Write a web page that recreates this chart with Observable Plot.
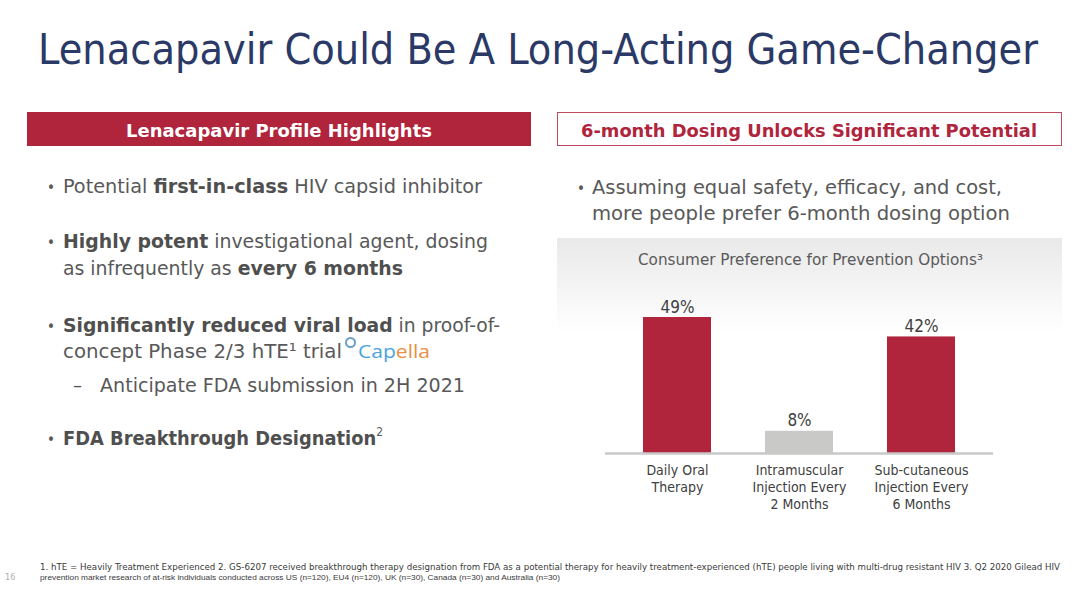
<!DOCTYPE html>
<html>
<head>
<meta charset="utf-8">
<script src="https://cdn.jsdelivr.net/npm/d3@7"></script>
<script src="https://cdn.jsdelivr.net/npm/@observablehq/plot@0.6"></script>
<style>
  html, body { margin: 0; padding: 0; background: #fff; }
  body { width: 1080px; height: 591px; position: relative; overflow: hidden;
         font-family: "DejaVu Sans Condensed", "DejaVu Sans", sans-serif; color: #595959; }
  .t { position: absolute; white-space: nowrap; line-height: 1; transform-origin: 0 0; }
  .title { font-size: 43px; color: #2b3966; }
  .hdr { font-size: 18px; font-weight: bold; }
  .body { font-size: 20px; }
  .body b { color: #4f4f4f; }
  .bul { font-size: 15px; }
  .box { position: absolute; box-sizing: border-box; }
  #chart { position: absolute; left: 557px; top: 238px; }
  .foot { font-size: 9px; color: #3a3a3a; }
  sup.s { font-size: 12px; vertical-align: 0; position: relative; top: -9px; }
</style>
</head>
<body>
<div class="t title" data-x="38" data-b="64" data-w="1000">Lenacapavir Could Be A Long-Acting Game-Changer</div>

<div class="box" style="left:27px;top:112px;width:504px;height:34px;background:#b0243c;"></div>
<div class="t hdr" style="color:#fff" data-c="279" data-b="137" data-w="306">Lenacapavir Profile Highlights</div>
<div class="box" style="left:557px;top:112px;width:505px;height:34px;border:1px solid #bf4a60;background:#fff;"></div>
<div class="t hdr" style="color:#b0243c" data-c="809" data-b="137" data-w="456">6-month Dosing Unlocks Significant Potential</div>

<div class="t bul" data-x="47" data-b="194">•</div>
<div class="t body" data-x="63" data-b="193" data-w="419">Potential <b>first-in-class</b> HIV capsid inhibitor</div>
<div class="t bul" data-x="47" data-b="249">•</div>
<div class="t body" data-x="63" data-b="248" data-w="425"><b>Highly potent</b> investigational agent, dosing</div>
<div class="t body" data-x="63" data-b="275" data-w="340">as infrequently as <b>every 6 months</b></div>
<div class="t bul" data-x="47" data-b="333">•</div>
<div class="t body" data-x="63" data-b="332" data-w="437"><b>Significantly reduced viral load</b> in proof-of-</div>
<div class="t body" data-x="63" data-b="358" data-w="279">concept Phase 2/3 hTE¹ trial</div>
<div class="box" style="left:345px;top:337px;width:11px;height:11px;border:2px solid #6a9ec6;border-radius:50%;"></div>
<div class="t" style="font-size:19px;font-family:'Open Sans','DejaVu Sans',sans-serif;" data-x="358" data-b="358" data-w="72"><span style="color:#4aa3df">Cap</span><span style="color:#e98f45">ella</span></div>
<div class="t body" data-x="73" data-b="392">–</div>
<div class="t body" data-x="100" data-b="392" data-w="365">Anticipate FDA submission in 2H 2021</div>
<div class="t bul" data-x="47" data-b="446">•</div>
<div class="t body" data-x="63" data-b="445" data-w="320"><b>FDA Breakthrough Designation</b><sup class="s">2</sup></div>

<div class="t bul" data-x="577" data-b="195">•</div>
<div class="t body" data-x="592" data-b="194" data-w="410">Assuming equal safety, efficacy, and cost,</div>
<div class="t body" data-x="592" data-b="220" data-w="418">more people prefer 6-month dosing option</div>

<div class="box" style="left:557px;top:238px;width:505px;height:95px;background:linear-gradient(#e9e9e9,#ffffff);"></div>
<div class="t" style="font-size:16px;color:#595959" data-x="638" data-b="266" data-w="345">Consumer Preference for Prevention Options³</div>

<div id="chart"></div>

<div class="t foot" style="color:#b0b0b0" data-x="5" data-b="581">16</div>
<div class="t foot" data-x="40" data-b="571" data-w="1020">1. hTE = Heavily Treatment Experienced 2. GS-6207 received breakthrough therapy designation from FDA as a potential therapy for heavily treatment-experienced (hTE) people living with multi-drug resistant HIV 3. Q2 2020 Gilead HIV</div>
<div class="t foot" style="font-family:'Liberation Sans',Arial,sans-serif;font-size:8px" data-x="40" data-b="581" data-w="520">prevention market research of at-risk individuals conducted across US (n=120), EU4 (n=120), UK (n=30), Canada (n=30) and Australia (n=30)</div>

<script>
// ---- chart data ----
const categories = ["Daily Oral Therapy", "Intramuscular Injection Every 2 Months", "Sub-cutaneous Injection Every 6 Months"];
const tickLabels = ["Daily Oral\nTherapy", "Intramuscular\nInjection Every\n2 Months", "Sub-cutaneous\nInjection Every\n6 Months"];
const shares = [49, 8, 42];

const rows = categories.map((c, i) => ({category: c, share: shares[i]}));
const RED = "#b0243c", GRAY = "#c9c9c7";

const chart = Plot.plot({
  width: 505,
  height: 285,
  marginLeft: 48,
  marginRight: 69,
  marginTop: 79,
  marginBottom: 70,
  style: {background: "transparent", color: "#404040", fontSize: "14px",
          fontFamily: "'DejaVu Sans Condensed', 'DejaVu Sans', sans-serif", overflow: "visible"},
  x: {domain: categories, paddingInner: 0.44, paddingOuter: 0.3},
  y: {domain: [0, 49], axis: null},
  color: {domain: categories, range: [RED, GRAY, RED]},
  marks: [
    Plot.barY(rows, {x: "category", y: "share", fill: "category"}),
    Plot.ruleY([0], {stroke: "#c9c9c9", strokeWidth: 2.5}),
    Plot.text(rows, {x: "category", y: "share", text: d => `${d.share}%`, dy: -5,
                     lineAnchor: "bottom", fontSize: 17, fill: "#404040"}),
    Plot.axisX({tickSize: 0, tickPadding: 10, label: null, lineHeight: 1.2,
                tickFormat: d => tickLabels[categories.indexOf(d)]})
  ]
});
document.getElementById("chart").appendChild(chart);

// ---- slide text layout: place by baseline, fit widths ----
document.querySelectorAll(".t").forEach(el => {
  const fs = parseFloat(getComputedStyle(el).fontSize);
  el.style.top = (+el.dataset.b - 0.846 * fs) + "px";
  const w0 = el.getBoundingClientRect().width;
  let left = el.dataset.x !== undefined ? +el.dataset.x : null;
  if (el.dataset.w) {
    const w = +el.dataset.w;
    el.style.transform = `scaleX(${w / w0})`;
    if (el.dataset.c !== undefined) left = +el.dataset.c - w / 2;
  } else if (el.dataset.c !== undefined) {
    left = +el.dataset.c - w0 / 2;
  }
  el.style.left = left + "px";
});
</script>
</body>
</html>
